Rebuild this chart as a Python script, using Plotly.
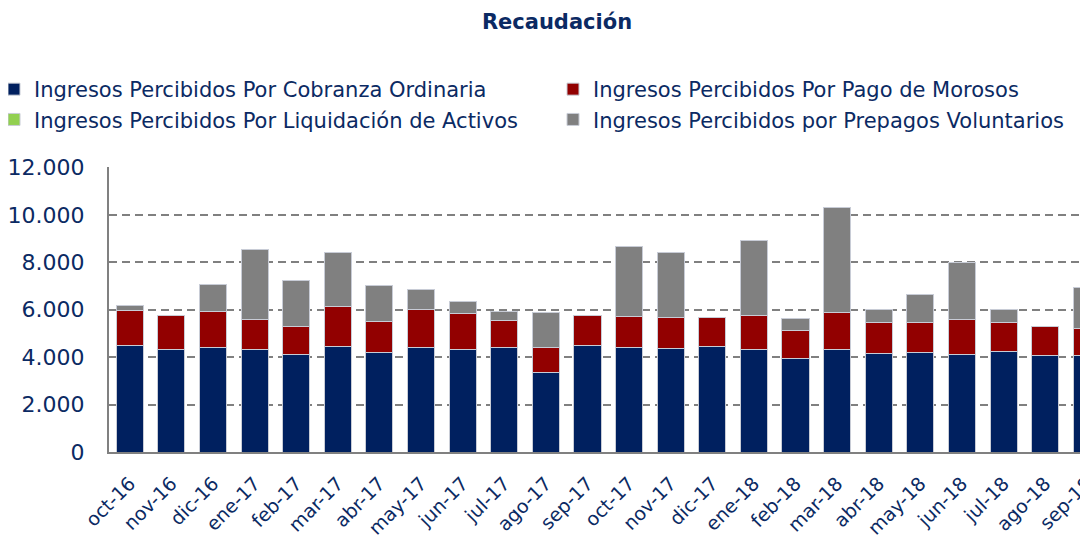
import plotly.graph_objects as go

months = ["oct-16", "nov-16", "dic-16", "ene-17", "feb-17", "mar-17", "abr-17", "may-17",
          "jun-17", "jul-17", "ago-17", "sep-17", "oct-17", "nov-17", "dic-17", "ene-18",
          "feb-18", "mar-18", "abr-18", "may-18", "jun-18", "jul-18", "ago-18", "sep-18"]

cobranza_ordinaria = [4480, 4320, 4405, 4320, 4110, 4430, 4195, 4405, 4305, 4390, 3365, 4475,
                      4390, 4345, 4460, 4320, 3925, 4320, 4165, 4195, 4110, 4235, 4050, 4080]
pago_morosos = [1470, 1420, 1500, 1270, 1180, 1690, 1320, 1590, 1520, 1140, 1025, 1295,
                1305, 1310, 1225, 1435, 1200, 1545, 1280, 1250, 1460, 1225, 1255, 1110]
liquidacion_activos = [0] * 24
prepagos_voluntarios = [240, 0, 1160, 2950, 1955, 2280, 1505, 875, 535, 400, 1475, 0,
                        2970, 2770, 0, 3150, 490, 4430, 565, 1210, 2405, 550, 0, 1760]

series = [
    ("Ingresos Percibidos Por Cobranza Ordinaria", cobranza_ordinaria, "#00205F", "legend"),
    ("Ingresos Percibidos Por Pago de Morosos", pago_morosos, "#920000", "legend2"),
    ("Ingresos Percibidos Por Liquidación de Activos", liquidacion_activos, "#92D050", "legend"),
    ("Ingresos Percibidos por Prepagos Voluntarios", prepagos_voluntarios, "#808080", "legend2"),
]

FONT = "DejaVu Sans"
NAVY = "#0B2A63"

# figure is 1080x527 (page has an 8px body margin)
W, H = 1080, 527
ML, MT, MB = 101, 159, 83
PW = W - ML

fig = go.Figure()
for name, vals, col, lg in series:
    fig.add_trace(go.Bar(
        x=months, y=vals, name=name, legend=lg,
        marker=dict(color=col, line=dict(color="#C8CCD6", width=1)),
    ))

legend_common = dict(orientation="v", xref="paper", yref="container",
                     xanchor="left", yanchor="top", y=1 - 61 / H,
                     font=dict(size=21, color=NAVY, family=FONT),
                     traceorder="normal", bgcolor="rgba(0,0,0,0)")

fig.update_layout(
    barmode="stack",
    bargap=0.35,
    width=W, height=H,
    paper_bgcolor="white", plot_bgcolor="white",
    separators=",.",
    margin=dict(l=ML, r=0, t=MT, b=MB, pad=0, autoexpand=False),
    font=dict(family=FONT, color=NAVY),
    title=dict(text="<b>Recaudación</b>", x=549 / W, xanchor="center",
               xref="container", y=1 - 14 / H, yref="container", yanchor="middle",
               font=dict(size=21, color=NAVY, family=FONT)),
    legend=dict(x=(-14 - ML) / PW, **legend_common),
    legend2=dict(x=(545 - ML) / PW, **legend_common),
    showlegend=True,
)

fig.update_xaxes(
    range=[-0.5, 23.03],
    tickangle=-45,
    tickfont=dict(size=19, color=NAVY, family=FONT),
    ticklabelstandoff=11,
    showline=True, linecolor="#808080", linewidth=2,
    showgrid=False, ticks="",
)
fig.update_yaxes(
    range=[0, 12020],
    tickvals=[0, 2000, 4000, 6000, 8000, 10000, 12000],
    tickformat=",d",
    tickfont=dict(size=22, color=NAVY, family=FONT),
    ticklabelstandoff=18,
    showline=True, linecolor="#808080", linewidth=2,
    showgrid=True, gridcolor="#808080", gridwidth=2, griddash="8px,5px",
    zeroline=False, ticks="",
)

fig.write_html("out.html")
